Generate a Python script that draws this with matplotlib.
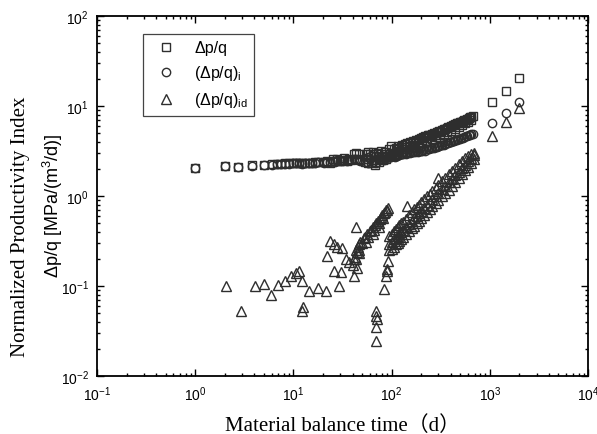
import matplotlib
matplotlib.use("Agg")
import matplotlib.pyplot as plt
from matplotlib.ticker import LogLocator, NullFormatter

plt.rcParams['font.family'] = 'Liberation Sans'
plt.rcParams['mathtext.fontset'] = 'custom'
plt.rcParams['mathtext.rm'] = 'Liberation Sans'
plt.rcParams['mathtext.it'] = 'Liberation Sans:italic'

# --- data ---
# dp/q (squares)
sq_t = [1.0, 2.0, 2.7, 3.8, 5.0, 6.0, 6.8, 7.5, 8.3, 9.0, 9.8, 10.6, 11.5, 12.3, 13.2,
        14.3, 15.5, 16.5, 17.8, 20.5, 22, 23.5, 25, 26.5, 28, 29.5, 31, 33, 35, 37, 39,
        41, 43, 44, 46, 48, 53, 55, 57, 58, 60, 62, 64, 66, 68, 70, 72, 74, 76, 78, 80,
        82, 84, 86, 88, 90, 93, 96, 99, 102, 105, 108, 111, 114, 117, 120, 124, 128,
        132, 136, 140, 145, 150, 155, 160, 166, 172, 178, 184, 190, 197, 204, 211, 218,
        226, 234, 242, 250, 259, 268, 277, 287, 297, 307, 318, 329, 340, 352, 364, 377,
        390, 404, 418, 432, 447, 462, 478, 495, 512, 530, 548, 567, 587, 607, 628, 650,
        680, 1050, 1450, 2000]
sq_v = [2.05, 2.18, 2.12, 2.2, 2.22, 2.25, 2.27, 2.28, 2.3, 2.3, 2.3, 2.32, 2.32, 2.3, 2.33,
        2.35, 2.33, 2.36, 2.38, 2.36, 2.45, 2.35, 2.55, 2.42, 2.6, 2.45, 2.5, 2.65, 2.45, 2.6, 2.5,
        2.9, 3.0, 2.55, 2.9, 2.5, 2.4, 2.9, 2.3, 3.1, 2.9, 2.3, 3.1, 2.5, 2.2, 2.8, 3.0, 2.4, 2.6, 3.2, 2.7,
        2.5, 2.9, 3.1, 2.6, 2.8, 3.3, 2.9, 3.6, 3.0, 3.3, 2.9, 3.4, 3.1, 3.6, 3.2, 3.5, 3.7,
        3.3, 3.8, 3.5, 3.9, 3.6, 4.0, 3.7, 4.1, 3.9, 4.2, 4.0, 4.3, 4.4, 4.2, 4.5, 4.6,
        4.4, 4.7, 4.8, 4.6, 4.9, 5.0, 4.8, 5.1, 5.2, 5.3, 5.1, 5.4, 5.5, 5.6, 5.7, 5.8,
        5.9, 6.0, 6.1, 6.2, 6.3, 6.4, 6.5, 6.6, 6.7, 6.8, 6.9, 7.0, 7.2, 7.3, 7.5, 7.6,
        7.7, 11.1, 14.7, 20.5]
sq2_t = [105, 125, 145, 165, 185, 205, 230, 255, 280, 310, 340, 370, 400, 440, 480,
         520, 560, 600, 640]
sq2_v = [2.9, 3.1, 3.3, 3.5, 3.7, 3.9, 4.1, 4.3, 4.5, 4.7, 4.9, 5.1, 5.3, 5.6, 5.9,
         6.1, 6.4, 6.7, 7.0]

# (dp/q)_i (circles)
ci_t = [1.0, 2.0, 2.7, 3.8, 5.0, 6.0, 6.8, 7.5, 8.3, 9.0, 9.8, 10.6, 11.5, 12.3, 13.2,
        14.3, 15.5, 16.5, 17.8, 20.5, 22, 23.5, 25, 26.5, 28, 29.5, 31, 33, 35, 37, 39,
        41, 43, 46, 48, 53, 55, 57, 58, 60, 62, 64, 66, 68, 70, 72, 74, 76, 78, 80,
        82, 84, 86, 88, 90, 93, 96, 99, 102, 105, 108, 111, 114, 117, 120, 124, 128,
        132, 136, 140, 145, 150, 155, 160, 166, 172, 178, 184, 190, 197, 204, 211, 218,
        226, 234, 242, 250, 259, 268, 277, 287, 297, 307, 318, 329, 340, 352, 364, 377,
        390, 404, 418, 432, 447, 462, 478, 495, 512, 530, 548, 567, 587, 607, 628, 650,
        680, 1050, 1450, 2000]
ci_v = [2.05, 2.15, 2.1, 2.18, 2.2, 2.22, 2.25, 2.26, 2.28, 2.28, 2.3, 2.3, 2.3, 2.28, 2.32,
        2.33, 2.32, 2.35, 2.36, 2.35, 2.4, 2.38, 2.45, 2.4, 2.5, 2.42, 2.47, 2.5, 2.45, 2.5, 2.48,
        2.55, 2.6, 2.5, 2.45, 2.4, 2.6, 2.3, 2.7, 2.6, 2.8, 2.4, 2.9, 2.5, 2.3, 2.7, 2.9, 2.5, 2.6, 2.8,
        2.6, 2.5, 2.7, 2.8, 2.6, 2.7, 2.8, 2.7, 2.75, 2.8, 2.7, 2.85, 2.8, 2.9, 2.85, 2.9, 2.95,
        2.9, 3.0, 2.95, 3.0, 3.05, 3.0, 3.1, 3.05, 3.1, 3.15, 3.1, 3.2, 3.15, 3.2, 3.25, 3.2,
        3.3, 3.3, 3.35, 3.4, 3.4, 3.45, 3.5, 3.5, 3.55, 3.6, 3.65, 3.7, 3.7, 3.8, 3.85, 3.9,
        3.95, 4.0, 4.05, 4.1, 4.15, 4.2, 4.3, 4.35, 4.4, 4.45, 4.5, 4.6, 4.65, 4.7, 4.8, 4.85,
        4.9, 6.5, 8.4, 11.1]

# (dp/q)_id (triangles): scattered early points, second cluster, late outliers
tr_t = [2.07, 2.95, 4.1, 5.06, 5.97, 7.0, 8.3, 9.5, 10.7, 11.5, 12.1, 12.3, 12.6, 14.5,
        17.6, 21.7, 29.4, 22, 23.3, 25.6, 30.8, 26, 28, 31.5, 34.7, 37, 41, 44, 47, 43.5,
        40, 41, 42, 43, 44, 45, 46, 48, 50, 52, 54, 56, 58, 60, 62, 64, 66, 68, 70, 72,
        74, 76, 78, 80, 82, 84, 86, 88, 90, 91, 43, 47, 55, 65, 75,
        70, 70, 70.5, 70, 69, 83, 88, 89, 90, 91,
        142, 295, 1050, 1450, 2000]
tr_v = [0.1, 0.0525, 0.1, 0.105, 0.079, 0.102, 0.115, 0.128, 0.14, 0.147, 0.113, 0.053, 0.058, 0.088,
        0.095, 0.088, 0.1, 0.215, 0.32, 0.146, 0.143, 0.29, 0.27, 0.265, 0.2, 0.185, 0.13, 0.16, 0.29, 0.45,
        0.17, 0.2, 0.21, 0.25, 0.24, 0.27, 0.25, 0.31, 0.3, 0.34, 0.35, 0.38, 0.35, 0.41, 0.42, 0.45, 0.42, 0.48, 0.5, 0.53,
        0.5, 0.56, 0.58, 0.61, 0.57, 0.64, 0.66, 0.69, 0.7, 0.73, 0.2, 0.23, 0.31, 0.38, 0.45,
        0.053, 0.047, 0.043, 0.035, 0.0245, 0.093, 0.13, 0.147, 0.155, 0.19,
        0.77, 1.58, 4.6, 6.6, 9.5]
# main rising band of triangles: upper / middle / lower edge
band_t = [95, 100, 105, 110, 115, 120, 125, 130, 140, 150, 160, 170, 180, 190, 200,
          215, 230, 245, 260, 280, 300, 325, 350, 380, 410, 440, 480, 520, 560, 600,
          650, 695]
band_hi = [0.36, 0.38, 0.41, 0.43, 0.45, 0.48, 0.5, 0.52, 0.56, 0.61, 0.66, 0.71, 0.75, 0.8, 0.85,
           0.92, 0.99, 1.06, 1.14, 1.24, 1.34, 1.47, 1.6, 1.75, 1.9, 2.05, 2.25, 2.45, 2.65, 2.8,
           2.95, 3.0]
band_mid = [0.29, 0.31, 0.33, 0.34, 0.36, 0.38, 0.4, 0.42, 0.45, 0.49, 0.53, 0.57, 0.6, 0.64, 0.68,
            0.74, 0.8, 0.85, 0.92, 1.0, 1.09, 1.19, 1.29, 1.42, 1.55, 1.69, 1.87, 2.05, 2.23, 2.42,
            2.65, 2.88]
band_lo = [0.25, 0.26, 0.27, 0.29, 0.3, 0.32, 0.33, 0.35, 0.38, 0.41, 0.44, 0.47, 0.5, 0.53, 0.57,
           0.61, 0.66, 0.71, 0.77, 0.83, 0.91, 0.99, 1.08, 1.18, 1.3, 1.42, 1.58, 1.75, 1.92, 2.1,
           2.35, 2.6]

fig = plt.figure(figsize=(5.97, 4.35), dpi=100)
ax = fig.add_axes([0.1625, 0.1333, 0.8225, 0.8277])

ec = '#2e2e2e'
sty = dict(ls='none', mfc='none', mec=ec, mew=1.0)
ax.plot(sq_t + sq2_t, sq_v + sq2_v, marker='s', ms=5.5, label='Δp/q', **sty)
ax.plot(ci_t, ci_v, marker='o', ms=6, label='(Δp/q)$_{\\mathrm{i}}$', **sty)
ax.plot(tr_t + band_t * 3, tr_v + band_hi + band_mid + band_lo, marker='^', ms=6.5,
        label='(Δp/q)$_{\\mathrm{id}}$', **sty)

ax.set_xscale('log')
ax.set_yscale('log')
ax.set_xlim(0.1, 1e4)
ax.set_ylim(0.01, 100)
for a in (ax.xaxis, ax.yaxis):
    a.set_major_locator(LogLocator(base=10, numticks=12))
    a.set_minor_locator(LogLocator(base=10, subs=range(2, 10), numticks=12))
    a.set_minor_formatter(NullFormatter())
ax.tick_params(which='both', direction='in', top=True, right=True, labelsize=10, width=1)
ax.tick_params(which='major', length=5, pad=6)
ax.tick_params(which='minor', length=2.5)
for s in ax.spines.values():
    s.set_linewidth(1.3)

leg = ax.legend(loc='upper left', bbox_to_anchor=(0.094, 0.95), borderaxespad=0,
                fontsize=11.5, fancybox=False, framealpha=1, edgecolor='#444444',
                labelspacing=0.5, handletextpad=0.8)
leg.get_frame().set_linewidth(0.9)

ax.set_xlabel('Material balance time（d）', family=['Liberation Serif', 'Noto Sans CJK SC'],
              fontsize=15, labelpad=9)
fig.text(0.034, 0.478, 'Normalized Productivity Index', family='Liberation Serif',
         fontsize=15, rotation=90, ha='center', va='center')
fig.text(0.089, 0.526, 'Δp/q [MPa/(m$^3$/d)]', fontsize=13,
         rotation=90, ha='center', va='center')

fig.savefig('out.png', dpi=100)
